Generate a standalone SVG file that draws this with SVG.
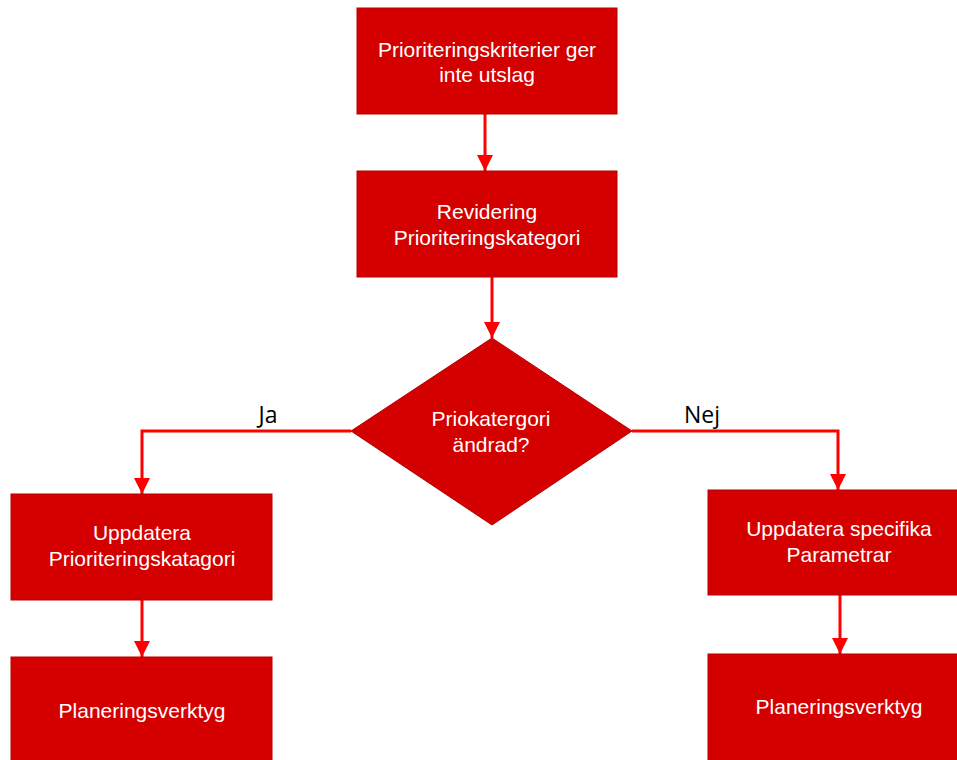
<svg xmlns="http://www.w3.org/2000/svg" width="957" height="760" viewBox="0 0 957 760">
<defs>
<style>
.box{fill:#d40000;stroke:#b80000;stroke-width:1}
.t{font-family:"Liberation Sans",Arial,sans-serif;font-size:21px;fill:#ffffff;text-anchor:middle}
.lbl{font-family:"Open Sans","Liberation Sans",sans-serif;font-size:23px;fill:#000000;text-anchor:middle}
.c{fill:none;stroke:#ff0000;stroke-width:3}
</style>
<marker id="ah" viewBox="0 0 10 10" refX="10" refY="5" markerWidth="5.5" markerHeight="5.5" orient="auto" markerUnits="strokeWidth">
<path d="M0,0 L10,5 L0,10 z" fill="#ff0000"/>
</marker>
</defs>
<rect width="957" height="760" fill="#ffffff"/>
<g id="connectors">
<path class="c" d="M485,114 L485,171" marker-end="url(#ah)"/>
<path class="c" d="M492,277 L492,338" marker-end="url(#ah)"/>
<path class="c" d="M351,431 L142,431 L142,494" marker-end="url(#ah)"/>
<path class="c" d="M632,431 L838,431 L838,490" marker-end="url(#ah)"/>
<path class="c" d="M142,600 L142,657" marker-end="url(#ah)"/>
<path class="c" d="M840,595 L840,654" marker-end="url(#ah)"/>
<text class="lbl" x="268" y="423">Ja</text>
<text class="lbl" x="702" y="423">Nej</text>
</g>
<g id="n1">
<rect class="box" x="357" y="8" width="260" height="106"/>
<text class="t" x="487" y="57">Prioriteringskriterier ger</text>
<text class="t" x="487" y="82">inte utslag</text>
</g>
<g id="n2">
<rect class="box" x="357" y="171" width="260" height="106"/>
<text class="t" x="487" y="219">Revidering</text>
<text class="t" x="487" y="245">Prioriteringskategori</text>
</g>
<g id="n3">
<polygon class="box" points="492,338 632,431 492,525 351,431"/>
<text class="t" x="491" y="426">Priokatergori</text>
<text class="t" x="491" y="452">ändrad?</text>
</g>
<g id="n4">
<rect class="box" x="11" y="494" width="261" height="106"/>
<text class="t" x="142" y="540">Uppdatera</text>
<text class="t" x="142" y="566">Prioriteringskatagori</text>
</g>
<g id="n5">
<rect class="box" x="11" y="657" width="261" height="110"/>
<text class="t" x="142" y="718">Planeringsverktyg</text>
</g>
<g id="n6">
<rect class="box" x="708" y="490" width="260" height="105"/>
<text class="t" x="839" y="536">Uppdatera specifika</text>
<text class="t" x="839" y="562">Parametrar</text>
</g>
<g id="n7">
<rect class="box" x="708" y="654" width="260" height="110"/>
<text class="t" x="839" y="714">Planeringsverktyg</text>
</g>
</svg>
